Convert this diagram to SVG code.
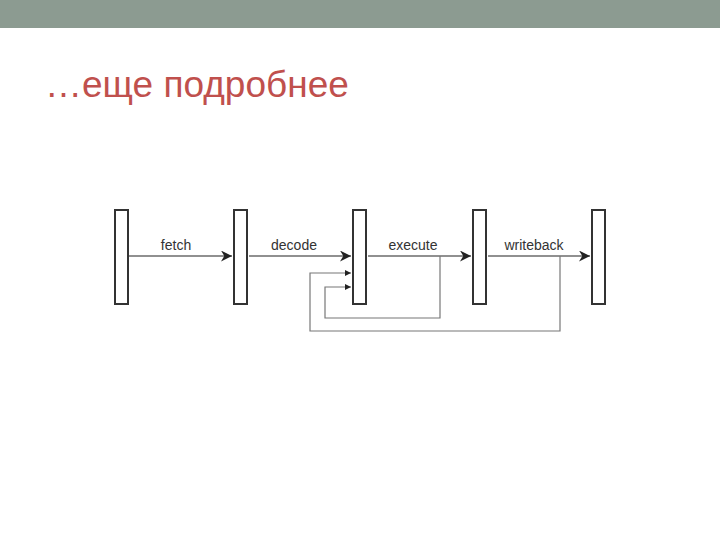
<svg xmlns="http://www.w3.org/2000/svg" width="720" height="540" viewBox="0 0 720 540">
<style>
.bar{fill:#fff;stroke:#333;stroke-width:2}
.ln{stroke:#222;stroke-width:1.2;fill:none}
.fb{stroke:#777;stroke-width:1.2;fill:none}
.lb{font-family:"Liberation Sans",Arial,sans-serif;font-size:14px;fill:#333;text-anchor:middle}
</style>
<defs>
<marker id="a" viewBox="0 0 10 10" refX="10" refY="5" markerWidth="13" markerHeight="11" orient="auto" markerUnits="userSpaceOnUse"><path d="M0,0L10,5L0,10L3,5z" fill="#222"/></marker>
<marker id="s" viewBox="0 0 10 10" refX="10" refY="5" markerWidth="6" markerHeight="6" orient="auto" markerUnits="userSpaceOnUse"><path d="M0,0L10,5L0,10z" fill="#222"/></marker>
</defs>
<rect width="720" height="540" fill="#fff"/>
<rect width="720" height="28" fill="#8c9b91"/>
<text x="45" y="97" font-family="Liberation Sans,Arial,sans-serif" font-size="37" fill="#c0504d">…еще подробнее</text>
<g id="connectors">
<line class="ln" x1="129" y1="256" x2="232" y2="256" marker-end="url(#a)"/>
<line class="ln" x1="249" y1="256" x2="351" y2="256" marker-end="url(#a)"/>
<line class="ln" x1="368" y1="256" x2="471" y2="256" marker-end="url(#a)"/>
<line class="ln" x1="488" y1="256" x2="590" y2="256" marker-end="url(#a)"/>
<polyline class="fb" points="440,256 440,318 325,318 325,287 351,287" marker-end="url(#s)"/>
<polyline class="fb" points="560,256 560,331 310,331 310,273 351,273" marker-end="url(#s)"/>
</g>
<g id="b1"><rect class="bar" x="115" y="210" width="13" height="94"/></g>
<g id="b2"><rect class="bar" x="234" y="210" width="13" height="94"/></g>
<g id="b3"><rect class="bar" x="353" y="210" width="13" height="94"/></g>
<g id="b4"><rect class="bar" x="473" y="210" width="13" height="94"/></g>
<g id="b5"><rect class="bar" x="592" y="210" width="13" height="94"/></g>
<text class="lb" x="176" y="250">fetch</text>
<text class="lb" x="294" y="250">decode</text>
<text class="lb" x="413" y="250">execute</text>
<text class="lb" x="534" y="250">writeback</text>
</svg>
